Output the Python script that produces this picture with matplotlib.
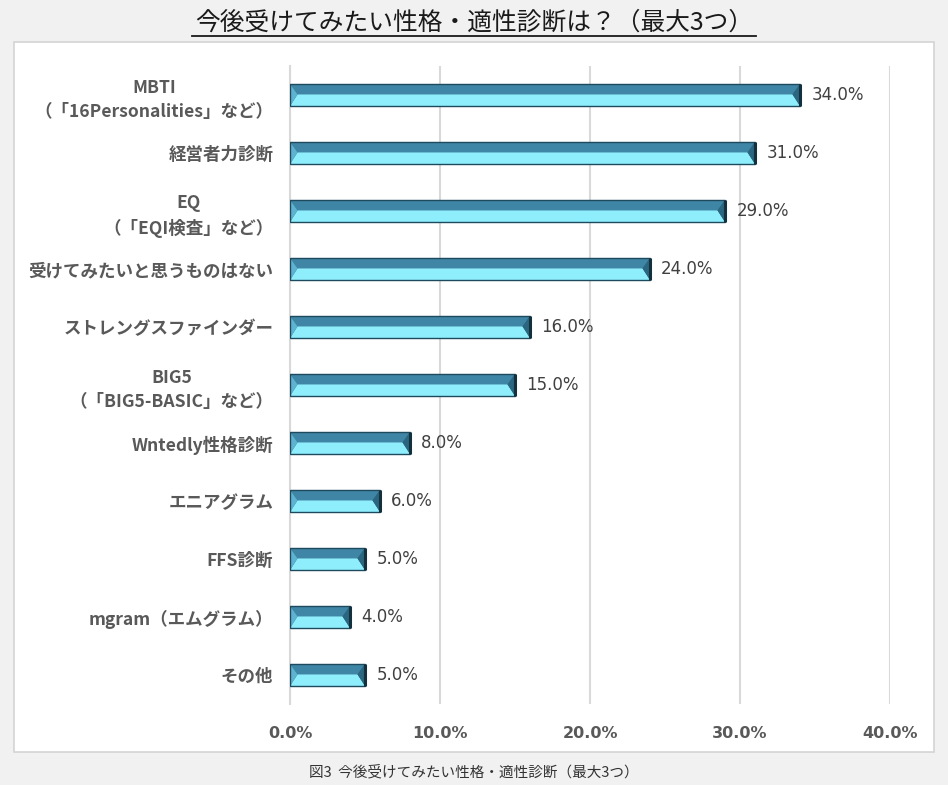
import matplotlib
matplotlib.use("Agg")
import matplotlib.pyplot as plt
from matplotlib.patches import Polygon, Rectangle
from matplotlib.lines import Line2D

plt.rcParams["font.family"] = ["Noto Sans CJK JP", "DejaVu Sans"]

# data, top to bottom as in the chart
labels = [
    "MBTI\n（「16Personalities」など）",
    "経営者力診断",
    "EQ\n（「EQI検査」など）",
    "受けてみたいと思うものはない",
    "ストレングスファインダー",
    "BIG5\n（「BIG5-BASIC」など）",
    "Wntedly性格診断",
    "エニアグラム",
    "FFS診断",
    "mgram（エムグラム）",
    "その他",
]
values = [34.0, 31.0, 29.0, 24.0, 16.0, 15.0, 8.0, 6.0, 5.0, 4.0, 5.0]
xticks = [0, 10, 20, 30, 40]

title = "今後受けてみたい性格・適性診断は？（最大3つ）"
caption = "図3  今後受けてみたい性格・適性診断（最大3つ）"

W, H = 948, 785
fig = plt.figure(figsize=(W / 100, H / 100), dpi=100, facecolor="#f1f1f1")

# white panel behind the chart
panel = Rectangle((14 / W, 1 - 752 / H), 920 / W, 710 / H,
                  transform=fig.transFigure, facecolor="white",
                  edgecolor="#d4d4d4", lw=1.2, zorder=-10)
fig.add_artist(panel)

ax = fig.add_axes([290 / W, 1 - 704 / H, 600 / W, 638 / H])
ax.set_facecolor("none")
n = len(values)
ys = list(range(n - 1, -1, -1))
ax.set_xlim(0, 40)
ax.set_ylim(-0.5, n - 0.5)

# bevelled bars: dark upper face, light cyan lower face
h = 0.38
dx = 0.5
for y, v in zip(ys, values):
    top, bot, mid = y + h / 2, y - h / 2, y + 0.01
    d = min(dx, v / 4)
    ax.add_patch(Rectangle((0, bot), v, h, facecolor="#2f6f8c", edgecolor="none", zorder=3))
    ax.add_patch(Polygon([(0, top), (v, top), (v - d, mid), (d, mid)],
                         closed=True, facecolor="#3f86a6", edgecolor="none", zorder=3))
    ax.add_patch(Polygon([(d, mid), (v - d, mid), (v, bot), (0, bot)],
                         closed=True, facecolor="#8feefc", edgecolor="none", zorder=3))
    ax.add_patch(Polygon([(0, top), (d, mid), (0, bot)],
                         closed=True, facecolor="#5fb3d2", edgecolor="none", zorder=3))
    ax.add_patch(Polygon([(v, top), (v - d, mid), (v, bot)],
                         closed=True, facecolor="#2a6680", edgecolor="none", zorder=3))
    ax.add_patch(Rectangle((0, bot), v, h, facecolor="none", edgecolor="#1e4a5e", lw=1.0, zorder=4))
    ax.plot([v, v], [bot, top], color="#15303d", lw=2.2, zorder=5, solid_capstyle="butt")
    ax.text(v + 0.75, y, f"{v:.1f}%", va="center", ha="left", fontsize=12,
            color="#404040", family=["DejaVu Sans"])

ax.set_yticks(ys)
ax.set_yticklabels(labels, fontsize=12.6, fontweight="bold", color="#595959",
                   multialignment="center", linespacing=1.4)
ax.set_xticks(xticks)
ax.set_xticklabels([f"{t:.1f}%" for t in xticks], fontsize=11.5, fontweight="bold",
                   color="#595959", family=["DejaVu Sans"])
ax.tick_params(axis="y", length=0, pad=12)
ax.tick_params(axis="x", length=0, pad=16)
ax.grid(axis="x", color="#d9d9d9", lw=1.5, zorder=1)
ax.set_axisbelow(True)
for s in ["top", "right", "bottom"]:
    ax.spines[s].set_visible(False)
ax.spines["left"].set_color("#d9d9d9")
ax.spines["left"].set_linewidth(1.5)

t = fig.text(0.5, 1 - 23 / H, title, ha="center", va="center", fontsize=17.8, color="#1a1a1a")
fig.text(0.5, 1 - 772 / H, caption, ha="center", va="center", fontsize=10.5, color="#333333")

# underline the title
fig.canvas.draw()
bb = t.get_window_extent(fig.canvas.get_renderer()).transformed(fig.transFigure.inverted())
fig.add_artist(Line2D([bb.x0 - 0.003, bb.x1 + 0.003], [bb.y0, bb.y0],
                      transform=fig.transFigure, color="#1a1a1a", lw=1.3))

fig.savefig("out.png", dpi=100, facecolor=fig.get_facecolor())
